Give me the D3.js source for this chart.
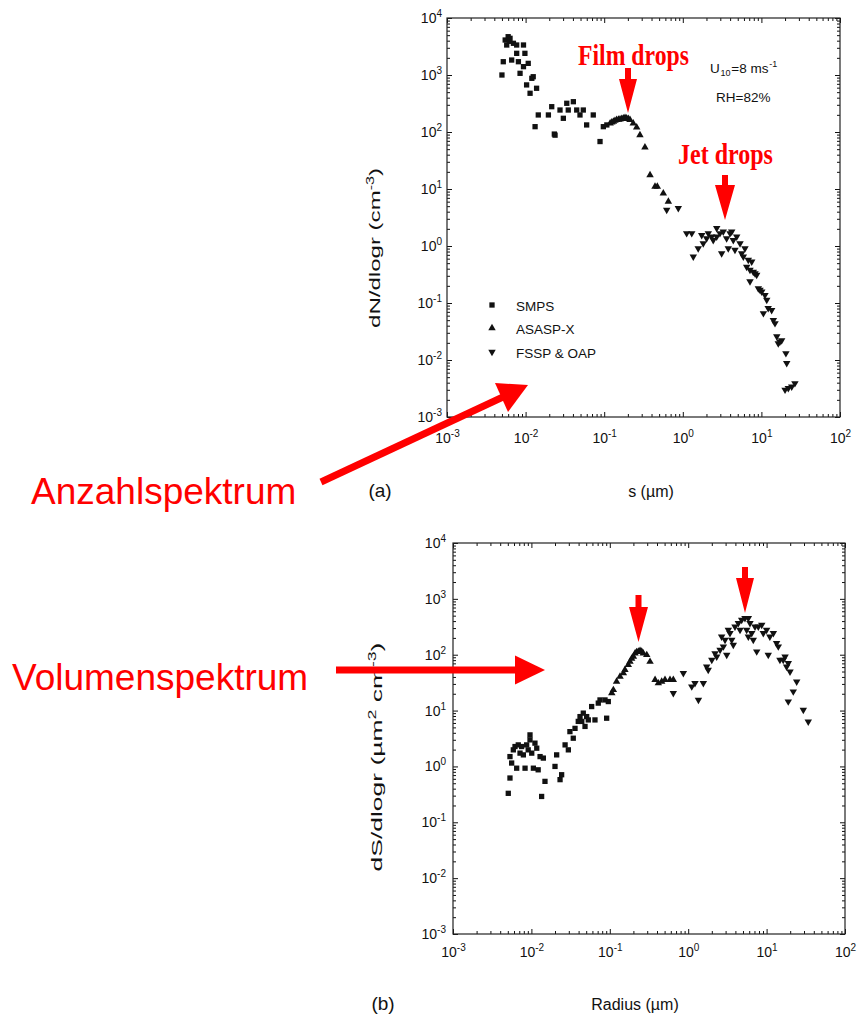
<!DOCTYPE html>
<html>
<head>
<meta charset="utf-8">
<script src="https://cdn.jsdelivr.net/npm/d3@7"></script>
<style>
  body { margin: 0; background: #fff; }
  svg { display: block; font-family: "Liberation Sans", Arial, sans-serif; }
</style>
</head>
<body>
<svg id="fig" width="861" height="1018"></svg>
<script>
// ---- Shared axis values (log decades) ----
const xDecades = [1e-3, 1e-2, 1e-1, 1e0, 1e1, 1e2];
const xExponents = ["-3", "-2", "-1", "0", "1", "2"];
const yDecades = [1e-3, 1e-2, 1e-1, 1e0, 1e1, 1e2, 1e3, 1e4];
const yExponents = ["-3", "-2", "-1", "0", "1", "2", "3", "4"];

// ---- (a) number spectrum dN/dlogr vs s (µm) ----
const numSmps = [
  [0.0050, 1000], [0.0052, 1710], [0.0055, 4110], [0.00575, 3360], [0.0060, 4700],
  [0.0062, 3900], [0.00634, 4400], [0.00665, 1830], [0.0070, 3600], [0.0077, 2400],
  [0.0077, 3360], [0.0081, 1710], [0.0085, 1070], [0.0094, 3360], [0.0094, 1400],
  [0.0098, 2400], [0.0103, 670], [0.0108, 1600], [0.0114, 478], [0.0120, 875],
  [0.0125, 933], [0.0132, 124], [0.0138, 585], [0.0145, 199], [0.0195, 199],
  [0.0215, 278], [0.0232, 92], [0.0237, 88], [0.0274, 243], [0.0302, 174],
  [0.0334, 319], [0.0349, 243], [0.0405, 340], [0.0447, 243], [0.0492, 199],
  [0.0542, 243], [0.0598, 133], [0.0726, 199], [0.0885, 68], [0.0975, 124], [0.108, 133]
];
const numAsasp = [
  [0.119, 142], [0.125, 148], [0.131, 152], [0.137, 158], [0.144, 163], [0.152, 165],
  [0.159, 167], [0.167, 170], [0.175, 174], [0.184, 178], [0.193, 174], [0.203, 170],
  [0.213, 163], [0.234, 142], [0.259, 121], [0.285, 88], [0.330, 54], [0.383, 17.6],
  [0.443, 11.0], [0.474, 11.0], [0.565, 8.4], [0.655, 6.0]
];
const numFssp = [
  [0.624, 4.3], [0.877, 4.6], [1.12, 1.67], [1.30, 1.67], [1.36, 0.65], [1.57, 0.91],
  [1.74, 1.55], [1.82, 1.11], [2.01, 1.36], [2.11, 1.67], [2.33, 1.46], [2.44, 1.27],
  [2.70, 2.05], [2.70, 1.46], [2.97, 1.67], [3.12, 0.74], [3.27, 1.78], [3.61, 1.36],
  [3.79, 0.91], [3.99, 1.67], [4.19, 1.78], [4.39, 1.27], [4.61, 0.85], [4.85, 1.46],
  [5.35, 1.11], [5.61, 0.74], [5.89, 0.65], [6.18, 0.91], [6.50, 0.43], [6.81, 0.57],
  [7.16, 0.38], [7.16, 0.24], [7.53, 0.53], [7.89, 0.35], [8.29, 0.33], [8.71, 0.31],
  [9.14, 0.18], [9.60, 0.17], [10.1, 0.158], [10.6, 0.066], [11.1, 0.138], [11.7, 0.113],
  [12.2, 0.081], [13.5, 0.075], [14.2, 0.050], [14.9, 0.044], [15.7, 0.026], [16.4, 0.0196],
  [17.2, 0.021], [18.1, 0.022], [20.5, 0.0131], [21.0, 0.0088], [20.0, 0.0030],
  [22.0, 0.0032], [24.3, 0.0034], [26.7, 0.0039]
];

// ---- (b) surface spectrum dS/dlogr vs radius (µm) ----
const surfSmps = [
  [0.00507, 0.33], [0.00533, 0.62], [0.00533, 1.50], [0.0056, 1.15], [0.00588, 1.98],
  [0.00618, 2.27], [0.00649, 0.93], [0.0068, 2.43], [0.00716, 1.73], [0.0075, 2.27],
  [0.0079, 1.61], [0.0083, 0.93], [0.0087, 2.43], [0.0091, 1.98], [0.0096, 3.67],
  [0.0096, 2.99], [0.0101, 1.73], [0.0106, 0.93], [0.0111, 2.61], [0.0117, 2.12],
  [0.0122, 0.87], [0.0129, 1.50], [0.0135, 0.29], [0.0142, 1.41], [0.0149, 0.54],
  [0.0200, 1.0], [0.0210, 1.61], [0.0232, 0.58], [0.0243, 0.71], [0.0269, 2.43],
  [0.0296, 1.98], [0.0310, 4.2], [0.0342, 3.2], [0.036, 4.8], [0.0396, 6.4],
  [0.0417, 7.8], [0.0439, 6.4], [0.0459, 9.0], [0.0483, 5.2], [0.0507, 7.8],
  [0.0532, 6.8], [0.0587, 11.8], [0.0647, 6.8], [0.0713, 13.6], [0.075, 15.5],
  [0.0869, 15.5], [0.0912, 7.3], [0.0957, 14.5]
];
const surfAsasp = [
  [0.106, 20.5], [0.111, 23.4], [0.122, 33], [0.135, 40.6], [0.149, 46.7], [0.156, 53.5],
  [0.172, 65.8], [0.181, 75], [0.190, 85], [0.200, 92.5], [0.210, 106], [0.220, 112],
  [0.231, 114], [0.243, 118], [0.255, 114], [0.267, 106], [0.296, 99], [0.326, 75],
  [0.378, 35.4], [0.416, 30.9], [0.459, 33], [0.506, 35.4], [0.586, 35.4], [0.646, 35.4]
];
const surfFssp = [
  [0.646, 20.5], [0.867, 46.7], [1.11, 26.9], [1.22, 30.9], [1.35, 15.5], [1.56, 30.9],
  [1.72, 61], [1.80, 53.5], [2.0, 80.7], [2.20, 106], [2.31, 92.5], [2.55, 122],
  [2.81, 140], [3.10, 99], [2.67, 211], [2.95, 184], [3.25, 278], [3.41, 243],
  [3.59, 184], [3.76, 150], [3.95, 318], [4.36, 366], [4.58, 278], [4.81, 420],
  [5.30, 450], [5.85, 450], [6.14, 366], [5.57, 278], [5.85, 211], [6.46, 243],
  [6.76, 184], [7.11, 318], [7.48, 114], [7.84, 318], [8.67, 341], [9.08, 243],
  [10.0, 278], [10.5, 99], [11.0, 211], [12.2, 243], [13.4, 161], [14.1, 140],
  [14.8, 80.7], [16.3, 80.7], [17.2, 92.5], [18.9, 70.5], [18.0, 61], [19.9, 49.9],
  [18.9, 14.5], [21.9, 21.9], [24.2, 33], [29.4, 10.3], [34.0, 6.35]
];

const legendNames = ["SMPS", "ASASP-X", "FSSP & OAP"];

// ---- Drawing helpers ----
const svg = d3.select("#fig");
const INK = "#111";
const RED = "#ff0000";
const SANS = "Liberation Sans, Arial, sans-serif";

const markerPath = {
  square: d3.symbol().type(d3.symbolSquare).size(28)(),
  up: d3.symbol().type(d3.symbolTriangle).size(24)(),
  down: d3.symbol().type(d3.symbolTriangle).size(24)()
};
function placeMarker(sel, kind, px, py) {
  sel.attr("d", markerPath[kind])
     .attr("transform", `translate(${px},${py})` + (kind === "down" ? " rotate(180)" : ""))
     .attr("fill", INK);
}

function minorValues(lo, hi) {
  const out = [];
  for (let e = lo; e < hi; e++) for (let k = 2; k <= 9; k++) out.push(k * Math.pow(10, e));
  return out;
}

function powerLabel(textSel, exps, values) {
  textSel.each(function(d) {
    const t = d3.select(this);
    const exp = exps[values.indexOf(d)];
    t.text(null);
    t.append("tspan").text("10");
    t.append("tspan").attr("font-size", 10).attr("dy", -6).text(exp);
  });
}

function drawPanel(cfg) {
  const { box } = cfg;
  const x = d3.scaleLog().domain([1e-3, 1e2]).range([box.left, box.right]);
  const y = d3.scaleLog().domain([1e-3, 1e4]).range([box.bottom, box.top]);
  const g = svg.append("g");

  const xMinor = minorValues(-3, 2);
  const yMinor = minorValues(-3, 4);

  const styleAxis = a => {
    a.select(".domain").remove();
    a.selectAll(".tick line").attr("stroke", INK).attr("stroke-width", 1);
  };

  // bottom: labelled decades + minor ticks
  const ab = g.append("g").attr("transform", `translate(0,${box.bottom})`)
    .call(d3.axisBottom(x).tickValues(xDecades).tickSize(-5).tickPadding(cfg.xPad));
  styleAxis(ab);
  ab.selectAll(".tick text").attr("font-size", 14).attr("font-family", SANS).attr("fill", INK)
    .call(s => powerLabel(s, xExponents, xDecades));
  styleAxis(g.append("g").attr("transform", `translate(0,${box.bottom})`)
    .call(d3.axisBottom(x).tickValues(xMinor).tickSize(-3).tickFormat("")));

  // top mirror
  styleAxis(g.append("g").attr("transform", `translate(0,${box.top})`)
    .call(d3.axisTop(x).tickValues(xDecades).tickSize(-5).tickFormat("")));
  styleAxis(g.append("g").attr("transform", `translate(0,${box.top})`)
    .call(d3.axisTop(x).tickValues(xMinor).tickSize(-3).tickFormat("")));

  // left: labelled decades + minor
  const al = g.append("g").attr("transform", `translate(${box.left},0)`)
    .call(d3.axisLeft(y).tickValues(yDecades).tickSize(-5).tickPadding(cfg.yPad));
  styleAxis(al);
  al.selectAll(".tick text").attr("font-size", 14).attr("font-family", SANS).attr("fill", INK)
    .call(s => powerLabel(s, yExponents, yDecades));
  styleAxis(g.append("g").attr("transform", `translate(${box.left},0)`)
    .call(d3.axisLeft(y).tickValues(yMinor).tickSize(-3).tickFormat("")));

  // right mirror
  styleAxis(g.append("g").attr("transform", `translate(${box.right},0)`)
    .call(d3.axisRight(y).tickValues(yDecades).tickSize(-5).tickFormat("")));
  styleAxis(g.append("g").attr("transform", `translate(${box.right},0)`)
    .call(d3.axisRight(y).tickValues(yMinor).tickSize(-3).tickFormat("")));

  // frame
  g.append("rect")
    .attr("x", box.left).attr("y", box.top)
    .attr("width", box.right - box.left).attr("height", box.bottom - box.top)
    .attr("fill", "none").attr("stroke", "#222").attr("stroke-width", 1.2);

  // data markers
  cfg.series.forEach(([data, kind]) => {
    g.append("g").selectAll("path").data(data).join("path")
      .each(function(d) { placeMarker(d3.select(this), kind, x(d[0]), y(d[1])); });
  });

  // axis titles
  g.append("text").attr("x", cfg.xTitle.x).attr("y", cfg.xTitle.y)
    .attr("text-anchor", "middle").attr("font-size", cfg.xTitle.size).attr("fill", INK)
    .text(cfg.xTitle.text);
  g.append("text").attr("x", cfg.tag.x).attr("y", cfg.tag.y)
    .attr("text-anchor", "middle").attr("font-size", 19).attr("fill", INK)
    .text(cfg.tag.text);

  const yt = g.append("text").attr("text-anchor", "middle").attr("font-size", 15).attr("fill", INK);
  cfg.yTitle.parts.forEach(p => {
    const ts = yt.append("tspan").text(p.t);
    if (p.sup) ts.attr("font-size", 10).attr("dy", -6);
    if (p.down) ts.attr("dy", 6);
  });
  const natural = yt.node().getComputedTextLength();
  yt.attr("transform",
    `translate(${cfg.yTitle.x},${cfg.yTitle.y}) rotate(-90) scale(${cfg.yTitle.len / natural},1) translate(0,5)`);

  return { x, y, g };
}

// ---- Panel (a) ----
const pa = drawPanel({
  box: { left: 447, right: 840, top: 18, bottom: 417 },
  xPad: 16, yPad: 5,
  series: [[numSmps, "square"], [numAsasp, "up"], [numFssp, "down"]],
  xTitle: { text: "s (µm)", x: 651, y: 497, size: 16 },
  tag: { text: "(a)", x: 380, y: 497 },
  yTitle: {
    x: 375, y: 248, len: 160,
    parts: [{ t: "dN/dlogr (cm" }, { t: "-3", sup: true }, { t: ")", down: true }]
  }
});

// legend
const legendKinds = ["square", "up", "down"];
const legendY = [305, 328, 352];
legendNames.forEach((name, i) => {
  pa.g.append("path").call(s => placeMarker(s, legendKinds[i], 492, legendY[i]));
  pa.g.append("text").attr("x", 516).attr("y", legendY[i] + 6)
    .attr("font-size", 13.5).attr("fill", INK).text(name);
});

// run conditions: U10 = 8 m/s wind, RH 82 %; pieces laid out left to right
const condPieces = [
  { t: "U", size: 13.5, dy: 0 },
  { t: "10", size: 9, dy: 3 },
  { t: "=8 ms", size: 13.5, dy: 0 },
  { t: "-1", size: 9, dy: -6 }
];
let condX = 710;
condPieces.forEach(p => {
  const el = pa.g.append("text").attr("x", condX).attr("y", 73 + p.dy)
    .attr("font-size", p.size).attr("fill", INK).text(p.t);
  condX += el.node().getComputedTextLength() + 0.8;
});
pa.g.append("text").attr("x", 716).attr("y", 102).attr("font-size", 13.5).attr("fill", INK).text("RH=82%");

// ---- Panel (b) ----
const pb = drawPanel({
  box: { left: 453, right: 845, top: 543, bottom: 934 },
  xPad: 13, yPad: 7,
  series: [[surfSmps, "square"], [surfAsasp, "up"], [surfFssp, "down"]],
  xTitle: { text: "Radius (µm)", x: 635, y: 1010, size: 16 },
  tag: { text: "(b)", x: 383, y: 1010 },
  yTitle: {
    x: 377, y: 757, len: 229,
    parts: [{ t: "dS/dlogr (µm" }, { t: "2", sup: true }, { t: " cm", down: true }, { t: "-3", sup: true }, { t: ")", down: true }]
  }
});

// ---- Red annotations ----
const ann = svg.append("g").attr("fill", RED);

// vertical down arrow: centre x, shaft top, head top, tip, head half-width, shaft half-width
function downArrow(cx, top, headTop, tip, half, shaft) {
  ann.append("path").attr("d",
    `M${cx - shaft},${top} L${cx + shaft},${top} L${cx + shaft},${headTop} L${cx + half},${headTop}` +
    ` L${cx},${tip} L${cx - half},${headTop} L${cx - shaft},${headTop} Z`);
}
downArrow(628, 68, 79, 113, 9, 3);
downArrow(725, 175, 185, 220, 10, 3);
downArrow(638.5, 595, 607, 642, 9.5, 3);
downArrow(745, 567, 578, 613, 9, 3);

// tall, narrow serif captions for the two drop modes
const serifBold = "Liberation Serif, Times New Roman, serif";
function tallCaption(text, x, y, size, width) {
  const t = ann.append("text").attr("x", 0).attr("y", 0)
    .attr("font-family", serifBold).attr("font-weight", "bold").attr("font-size", size).text(text);
  const w = t.node().getComputedTextLength();
  t.attr("transform", `translate(${x},${y}) scale(${width / w},1.25)`);
}
tallCaption("Film drops", 578, 65, 23.5, 111);
tallCaption("Jet drops", 678, 164, 24, 95);

// side labels with pointer arrows
ann.append("text").attr("x", 31).attr("y", 504).attr("font-size", 37).text("Anzahlspektrum");
ann.append("text").attr("x", 12).attr("y", 690).attr("font-size", 37).text("Volumenspektrum");

// slanted arrow toward panel (a)
ann.append("line").attr("x1", 321).attr("y1", 482).attr("x2", 503).attr("y2", 397)
  .attr("stroke", RED).attr("stroke-width", 7);
ann.append("path").attr("d", "M528,385 L495,383 L508,412 Z");

// horizontal arrow toward panel (b)
ann.append("rect").attr("x", 336).attr("y", 666.5).attr("width", 181).attr("height", 7);
ann.append("path").attr("d", "M515,655.5 L545,670 L515,684.5 Z");
</script>
</body>
</html>
